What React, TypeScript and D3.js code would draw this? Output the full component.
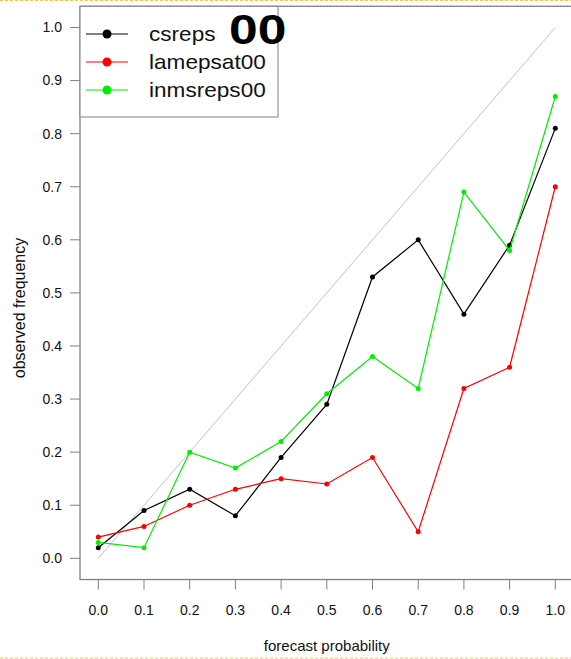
import React from "react";
import * as d3 from "d3";

const probs = [0.0, 0.1, 0.2, 0.3, 0.4, 0.5, 0.6, 0.7, 0.8, 0.9, 1.0];
const csreps = [0.02, 0.09, 0.13, 0.08, 0.19, 0.29, 0.53, 0.6, 0.46, 0.59, 0.81];
const lamepsat00 = [0.04, 0.06, 0.1, 0.13, 0.15, 0.14, 0.19, 0.05, 0.32, 0.36, 0.7];
const inmsreps00 = [0.03, 0.02, 0.2, 0.17, 0.22, 0.31, 0.38, 0.32, 0.69, 0.58, 0.87];
const seriesNames = ["csreps", "lamepsat00", "inmsreps00"];
const seriesColors = ["#000000", "#ff0000", "#00ee00"];
const xTicks = [0.0, 0.1, 0.2, 0.3, 0.4, 0.5, 0.6, 0.7, 0.8, 0.9, 1.0];
const yTicks = [0.0, 0.1, 0.2, 0.3, 0.4, 0.5, 0.6, 0.7, 0.8, 0.9, 1.0];

const W = 571;
const H = 659;
const FONT = "'Liberation Sans', Arial, Helvetica, sans-serif";

export default function App() {
  const x = d3.scaleLinear().domain([0, 1]).range([98.3, 555.3]);
  const y = d3.scaleLinear().domain([0, 1]).range([558.3, 27.5]);
  const allSeries = [csreps, lamepsat00, inmsreps00];
  const line = d3
    .line<number>()
    .x((_, i) => x(probs[i]))
    .y((d) => y(d));

  const left = x(-0.04);
  const right = x(1.04);
  const top = y(1.04);
  const bottom = y(-0.04);
  const axisColor = "#808080";

  return (
    <svg
      width={W}
      height={H}
      style={{ position: "fixed", left: 0, top: 0, background: "#fff" }}
      fontFamily={FONT}
    >
      <rect x={0} y={0} width={W} height={H} fill="#fff" />
      {/* yellow dotted borders */}
      <line x1={0} x2={W} y1={0.5} y2={0.5} stroke="#f2c744" strokeWidth={1} strokeDasharray="3,2" />
      <line x1={0} x2={W} y1={658} y2={658} stroke="#f2c744" strokeWidth={1} strokeDasharray="3,2" />

      {/* plot frame */}
      <rect
        x={left}
        y={top}
        width={right - left}
        height={bottom - top}
        fill="none"
        stroke={axisColor}
        strokeWidth={1.3}
      />

      {/* diagonal */}
      <line x1={x(0)} y1={y(0)} x2={x(1)} y2={y(1)} stroke="#999" strokeWidth={0.6} />

      {/* series */}
      {allSeries.map((s, si) => (
        <g key={si}>
          <path d={line(s) || ""} fill="none" stroke={seriesColors[si]} strokeWidth={1.2} />
          {s.map((v, i) => (
            <circle key={i} cx={x(probs[i])} cy={y(v)} r={2.5} fill={seriesColors[si]} />
          ))}
        </g>
      ))}

      {/* y axis */}
      {yTicks.map((t) => (
        <g key={"y" + t}>
          <line x1={left - 10} x2={left} y1={y(t)} y2={y(t)} stroke={axisColor} strokeWidth={1} />
          <text x={62} y={y(t)} dy="0.35em" textAnchor="end" fontSize={14} fill="#111">
            {t.toFixed(1)}
          </text>
        </g>
      ))}
      {/* x axis */}
      {xTicks.map((t) => (
        <g key={"x" + t}>
          <line x1={x(t)} x2={x(t)} y1={bottom} y2={bottom + 10} stroke={axisColor} strokeWidth={1} />
          <text x={x(t)} y={615} textAnchor="middle" fontSize={14} fill="#111">
            {t.toFixed(1)}
          </text>
        </g>
      ))}
      <text x={(x(0) + x(1)) / 2} y={651} textAnchor="middle" fontSize={15} fill="#111">
        forecast probability
      </text>
      <text
        transform={`translate(25, 308) rotate(-90)`}
        textAnchor="middle"
        fontSize={16}
        fill="#111"
      >
        observed frequency
      </text>

      {/* legend */}
      <rect x={left} y={top} width={278 - left} height={117 - top} fill="#fff" stroke={axisColor} strokeWidth={1} />
      {seriesNames.map((n, i) => (
        <g key={n}>
          <line x1={86} x2={128} y1={34 + i * 28} y2={34 + i * 28} stroke={seriesColors[i]} strokeWidth={1.2} />
          <circle cx={107} cy={34 + i * 28} r={4.5} fill={seriesColors[i]} />
          <text
            transform={`translate(149, ${34 + i * 28}) scale(1.13, 1)`}
            dy="0.35em"
            fontSize={20}
            fill="#111"
          >
            {n}
          </text>
        </g>
      ))}
      <text transform="translate(229, 44) scale(1.2, 1)" fontSize={43} fontWeight="bold" fill="#000">
        00
      </text>
    </svg>
  );
}
